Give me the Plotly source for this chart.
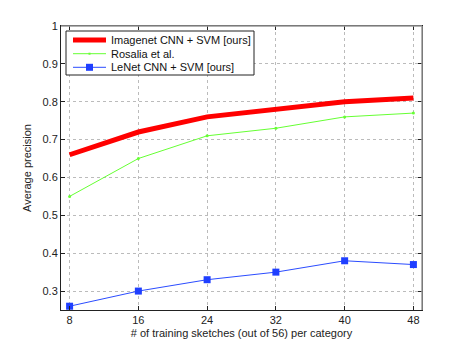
import plotly.graph_objects as go

# training set sizes (x axis)
n_train = [8, 16, 24, 32, 40, 48]

# average precision per method
imagenet_ap = [0.66, 0.72, 0.76, 0.78, 0.80, 0.81]
rosalia_ap = [0.55, 0.65, 0.71, 0.73, 0.76, 0.77]
lenet_ap = [0.26, 0.30, 0.33, 0.35, 0.38, 0.37]

names = ["Imagenet CNN + SVM [ours]", "Rosalia et al.", "LeNet CNN + SVM [ours]"]

# the page body has an 8px default margin, so the figure is a bit smaller
# and shifted so that the plot lands where it does in the target
OFF = 8
W, H = 466 - OFF, 350 - OFF
ML, MR, MT, MB = 61 - OFF, 44, 26 - OFF, 40
PW, PH = W - ML - MR, H - MT - MB


# helpers: page pixel -> paper coords
def px_x(px):
    return (px - OFF - ML) / PW


def px_y(py):
    return 1 - (py - OFF - MT) / PH


fig = go.Figure()
fig.add_trace(go.Scatter(x=n_train, y=imagenet_ap, mode="lines",
                         line=dict(color="#ff0000", width=5), name=names[0]))
fig.add_trace(go.Scatter(x=n_train, y=rosalia_ap, mode="lines+markers",
                         line=dict(color="#66ff33", width=1),
                         marker=dict(size=3, color="#66ff33"), name=names[1]))
fig.add_trace(go.Scatter(x=n_train, y=lenet_ap, mode="lines+markers",
                         line=dict(color="#2b4cff", width=1),
                         marker=dict(symbol="square", size=7, color="#1f3fff"),
                         name=names[2]))

axis_style = dict(showline=True, linecolor="#222", linewidth=1, mirror="ticks",
                  ticks="inside", ticklen=4, tickcolor="#222",
                  showgrid=True, gridcolor="#bbbbbb", griddash="dot", gridwidth=1,
                  zeroline=False, tickfont=dict(size=11, color="#222"))

fig.update_xaxes(range=[7, 49], tickvals=n_train,
                 title=dict(text="# of training sketches (out of 56) per category",
                            font=dict(size=11, color="#222"), standoff=4),
                 **axis_style)
fig.update_yaxes(range=[0.25, 1], tickvals=[0.3, 0.4, 0.5, 0.6, 0.7, 0.8, 0.9, 1],
                 ticktext=["0.3", "0.4", "0.5", "0.6", "0.7", "0.8", "0.9", "1"],
                 title=dict(text="Average precision", font=dict(size=11, color="#222"), standoff=8),
                 **axis_style)

# gray top/right frame like matlab
shapes = [
    dict(type="line", xref="paper", yref="paper", x0=0, x1=1, y0=1, y1=1,
         line=dict(color="#999", width=1.5), layer="above"),
    dict(type="line", xref="paper", yref="paper", x0=1, x1=1, y0=0, y1=1,
         line=dict(color="#999", width=1.5), layer="above"),
]

# matlab-style legend box drawn by hand (compact rows)
shapes.append(dict(type="rect", xref="paper", yref="paper",
                   x0=px_x(66), x1=px_x(254), y0=px_y(75), y1=px_y(31),
                   line=dict(color="#222", width=1), fillcolor="white", layer="above"))
annotations = []
row_y = [40, 53.7, 67.3]
styles = [("#ff0000", 5), ("#66ff33", 1), ("#2b4cff", 1)]
for name, ry, (col, lw) in zip(names, row_y, styles):
    shapes.append(dict(type="line", xref="paper", yref="paper",
                       x0=px_x(73), x1=px_x(106), y0=px_y(ry), y1=px_y(ry),
                       line=dict(color=col, width=lw), layer="above"))
    annotations.append(dict(text=name, xref="paper", yref="paper",
                            x=px_x(109), y=px_y(ry), xanchor="left", yanchor="middle",
                            showarrow=False, font=dict(size=11, color="#111")))
# legend markers
shapes.append(dict(type="rect", xref="paper", yref="paper",
                   x0=px_x(88.5), x1=px_x(90.5), y0=px_y(54.7), y1=px_y(52.7),
                   line=dict(width=0), fillcolor="#66ff33", layer="above"))
shapes.append(dict(type="rect", xref="paper", yref="paper",
                   x0=px_x(86), x1=px_x(93), y0=px_y(70.8), y1=px_y(63.8),
                   line=dict(width=0), fillcolor="#1f3fff", layer="above"))

fig.update_layout(
    width=W, height=H,
    margin=dict(l=ML, r=MR, t=MT, b=MB),
    paper_bgcolor="white", plot_bgcolor="white",
    font=dict(family="Liberation Sans, Arial, sans-serif", size=11, color="#222"),
    showlegend=False,
    shapes=shapes,
    annotations=annotations,
)

fig.write_html("out.html")
